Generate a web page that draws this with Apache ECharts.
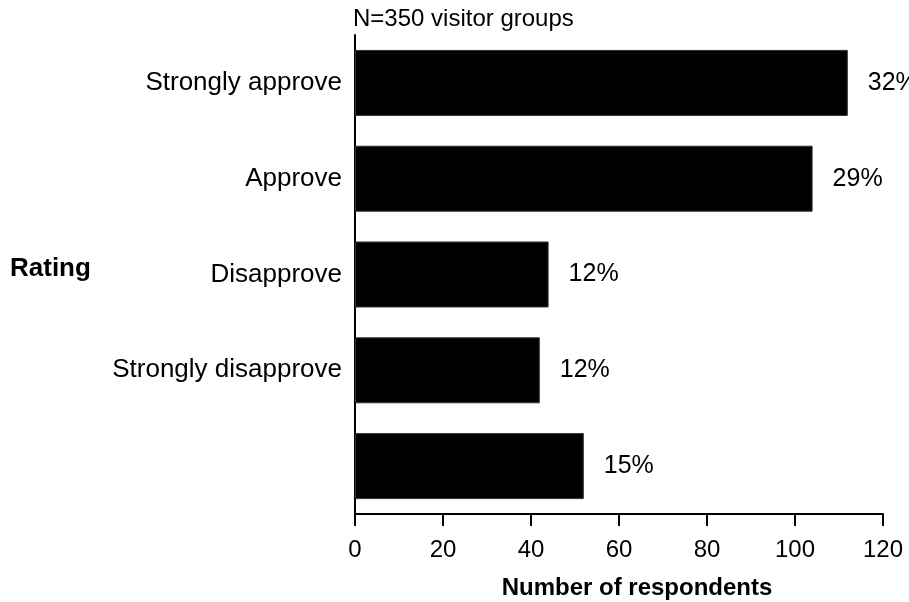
<!DOCTYPE html>
<html>
<head>
<meta charset="utf-8">
<script src="https://cdn.jsdelivr.net/npm/echarts@6/dist/echarts.min.js"></script>
<style>
  html, body { margin: 0; padding: 0; background: #fff; }
  #chart { width: 909px; height: 602px; }
</style>
</head>
<body>
<div id="chart"></div>
<script>
// Ratings, top to bottom; the last group has no label
const categories = ['Strongly approve', 'Approve', 'Disapprove', 'Strongly disapprove', ''];
// Number of respondents per rating
const counts = [112, 104, 44, 42, 52];
// Axis ticks for the count axis
const xTicks = [0, 20, 40, 60, 80, 100, 120];

const total = counts.reduce((a, b) => a + b, 0);
const FONT = '"Liberation Sans", Arial, sans-serif';
const FS = 26;

const chart = echarts.init(document.getElementById('chart'), null, { renderer: 'canvas' });

chart.setOption({
  animation: false,
  backgroundColor: '#ffffff',
  title: {
    text: 'N=350 visitor groups',
    left: 353,
    top: 7,
    padding: 0,
    textStyle: { fontFamily: FONT, fontSize: FS - 2, fontWeight: 'normal', color: '#000' }
  },
  graphic: [{
    type: 'text',
    left: 10,
    top: 256,
    style: { text: 'Rating', fontFamily: FONT, fontSize: FS, fontWeight: 'bold', fill: '#000' }
  }],
  grid: { left: 355, right: 26, top: 35, bottom: 88, containLabel: false, outerBoundsMode: 'none' },
  xAxis: {
    type: 'value',
    min: xTicks[0],
    max: xTicks[xTicks.length - 1],
    interval: xTicks[1] - xTicks[0],
    name: 'Number of respondents',
    nameLocation: 'middle',
    nameGap: 62,
    nameTextStyle: { fontFamily: FONT, fontSize: FS - 2, fontWeight: 'bold', color: '#000', padding: [0, 0, 0, 36] },
    axisLine: { show: true, lineStyle: { color: '#000', width: 2 } },
    axisTick: { show: true, length: 12, lineStyle: { color: '#000', width: 2 } },
    axisLabel: { margin: 24, fontFamily: FONT, fontSize: FS - 2, color: '#000' },
    splitLine: { show: false }
  },
  yAxis: {
    type: 'category',
    data: categories,
    inverse: true,
    axisLine: { show: true, onZero: false, lineStyle: { color: '#000', width: 2 } },
    axisTick: { show: false },
    axisLabel: { margin: 13, fontFamily: FONT, fontSize: FS, color: '#000' }
  },
  series: [{
    type: 'bar',
    data: counts,
    barWidth: 66,
    itemStyle: { color: '#000', borderColor: '#333', borderWidth: 1 },
    label: {
      show: true,
      position: 'right',
      distance: 20,
      fontFamily: FONT,
      fontSize: FS - 1,
      color: '#000',
      formatter: p => Math.round(p.value / total * 100) + '%'
    }
  }]
});
</script>
</body>
</html>
